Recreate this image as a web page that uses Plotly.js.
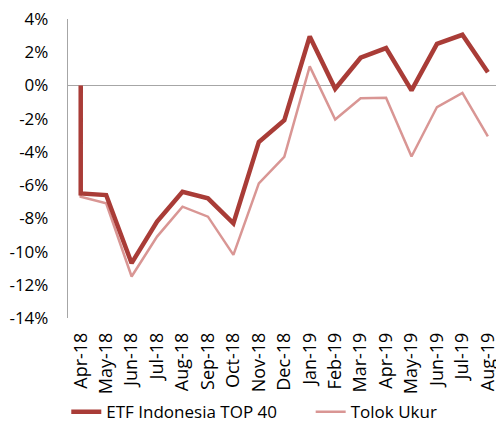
<!DOCTYPE html>
<html>
<head>
<meta charset="utf-8">
<script src="https://cdn.plot.ly/plotly-3.0.1.min.js"></script>
<style>
  html, body { margin: 0; padding: 0; background: #fff; overflow: hidden; }
  #chart { width: 496px; height: 421px; }
</style>
</head>
<body>
<div id="chart"></div>
<script>
// Categories (months)
const months = ['Apr-18','May-18','Jun-18','Jul-18','Aug-18','Sep-18','Oct-18','Nov-18','Dec-18',
                'Jan-19','Feb-19','Mar-19','Apr-19','May-19','Jun-19','Jul-19','Aug-19'];
// Starting value (both series start at 0% at the first month)
const startValue = 0;
// Series values (%)
const etfValues   = [-6.5, -6.6, -10.7, -8.2, -6.4, -6.8, -8.3, -3.4, -2.1,
                     2.95, -0.2, 1.67, 2.25, -0.3, 2.5, 3.05, 0.8];
const tolokValues = [-6.7, -7.1, -11.5, -9.1, -7.3, -7.9, -10.2, -5.9, -4.3,
                     1.15, -2.05, -0.77, -0.74, -4.28, -1.3, -0.45, -3.07];
// Y tick labels
const yTickVals = [-14, -12, -10, -8, -6, -4, -2, 0, 2, 4];
const yTickText = ['-14%', '-12%', '-10%', '-8%', '-6%', '-4%', '-2%', '0%', '2%', '4%'];

const FONT = 'Open Sans, Noto Sans, sans-serif';

const traces = [
  {
    name: 'ETF Indonesia TOP 40',
    x: [months[0]].concat(months),
    y: [startValue].concat(etfValues),
    type: 'scatter', mode: 'lines',
    line: { color: '#A93C37', width: 4.5 },
    legend: 'legend',
    hoverinfo: 'skip'
  },
  {
    name: 'Tolok Ukur',
    x: [months[0]].concat(months),
    y: [startValue].concat(tolokValues),
    type: 'scatter', mode: 'lines',
    line: { color: '#D99694', width: 2.5 },
    legend: 'legend2',
    hoverinfo: 'skip'
  }
];

// Draw lighter series under the darker one
const ordered = [traces[1], traces[0]];

const legendFont = { family: FONT, size: 17, color: '#000' };

const layout = {
  width: 496, height: 421,
  margin: { l: 68, r: 0, t: 19, b: 103, pad: 0, autoexpand: false },
  paper_bgcolor: '#ffffff', plot_bgcolor: '#ffffff',
  showlegend: true,
  legend: {
    orientation: 'h', x: -0.004, xanchor: 'left', y: -0.255, yanchor: 'top',
    font: legendFont, bgcolor: 'rgba(0,0,0,0)'
  },
  legend2: {
    orientation: 'h', x: 0.567, xanchor: 'left', y: -0.255, yanchor: 'top',
    font: legendFont, bgcolor: 'rgba(0,0,0,0)'
  },
  xaxis: {
    type: 'category',
    categoryorder: 'array', categoryarray: months,
    range: [-0.5, 16.32],
    automargin: false,
    showgrid: false, zeroline: false, showline: false,
    ticks: '', tickangle: -90,
    ticklabelstandoff: 10,
    tickfont: { family: FONT, size: 18, color: '#000' },
    fixedrange: true
  },
  yaxis: {
    range: [-14, 4],
    automargin: false,
    tickvals: yTickVals, ticktext: yTickText,
    showgrid: false,
    zeroline: true, zerolinecolor: '#A6A6A6', zerolinewidth: 1.5,
    showline: true, linecolor: '#A6A6A6', linewidth: 1.2,
    ticks: '',
    ticklabelstandoff: 15,
    tickfont: { family: FONT, size: 17, color: '#000' },
    fixedrange: true
  }
};

Plotly.newPlot('chart', ordered, layout, { staticPlot: true, displayModeBar: false });
</script>
</body>
</html>
